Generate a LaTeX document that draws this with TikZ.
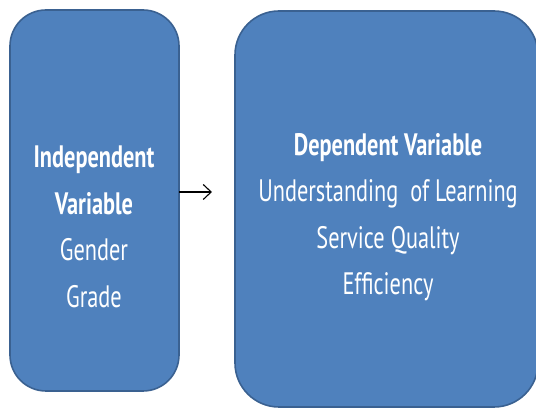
\documentclass[tikz,border=0pt]{standalone}
\usepackage{fontspec}
\setmainfont[FakeStretch=0.72]{PT Sans}
\usepackage{tikz}
\usetikzlibrary{arrows.meta}

\definecolor{boxfill}{HTML}{4F81BD}
\definecolor{boxline}{HTML}{3A6191}

\begin{document}
\begin{tikzpicture}[x=1pt, y=1pt,
  every node/.style={outer sep=0pt, inner sep=0pt},
  varbox/.style={draw=boxline, line width=1.6pt, fill=boxfill, rounded corners=36pt},
  vartext/.style={text=white, align=center, font=\fontsize{31}{46.5}\selectfont}]
\useasboundingbox (0,0) rectangle (536,409);

\node[varbox, minimum width=169, minimum height=381] (indep) at (94.5,208.5) {};
\node[varbox, minimum width=303, minimum height=396, rounded corners=44pt] (dep) at (386.5,200) {};

\node[vartext] (indeplab) at (94,182) {\textbf{Independent}\\ \textbf{Variable}\\ Gender\\ Grade};
\node[vartext] (deplab) at (388,192) {\textbf{Dependent Variable}\\ Understanding\ \ of Learning\\ Service Quality\\ Efficiency};

\coordinate (arrowend) at (212,217);
\draw[-{Straight Barb[length=8pt, width=15pt]}, line width=1.1pt] (indep.east |- arrowend) -- (arrowend);
\end{tikzpicture}
\end{document}
